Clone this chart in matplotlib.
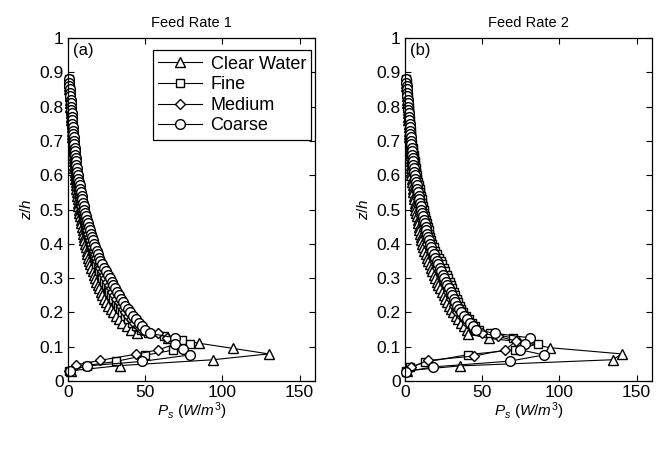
import numpy as np
import matplotlib.pyplot as plt

plt.rcParams['font.family'] = ['Liberation Sans', 'DejaVu Sans']
plt.rcParams['mathtext.fontset'] = 'custom'
plt.rcParams['mathtext.rm'] = 'Liberation Sans'
plt.rcParams['mathtext.it'] = 'Liberation Sans:italic'

# upper profile heights (z/h), shared by all series
z_upper = [0.88, 0.87, 0.86, 0.85, 0.84, 0.83, 0.82, 0.81, 0.80,
           0.79, 0.78, 0.77, 0.76, 0.75, 0.74, 0.73, 0.72, 0.71, 0.70,
           0.69, 0.68, 0.67, 0.66, 0.65, 0.64, 0.63, 0.62, 0.61, 0.60,
           0.59, 0.58, 0.57, 0.56, 0.55, 0.54, 0.53, 0.52, 0.51, 0.50,
           0.49, 0.48, 0.47, 0.46, 0.45, 0.44, 0.43, 0.42, 0.41, 0.40,
           0.39, 0.38, 0.37, 0.36, 0.35,
           0.34, 0.33, 0.32, 0.31, 0.30,
           0.29, 0.28, 0.27, 0.26, 0.25,
           0.24, 0.23, 0.22, 0.21, 0.20,
           0.19, 0.18, 0.17, 0.16, 0.15]

labels = ['Clear Water', 'Fine', 'Medium', 'Coarse']
markers = ['^', 's', 'D', 'o']

# ---- Feed Rate 1 ----
cw1_up = [0.5, 0.6, 0.8, 0.9, 1.1, 1.2, 1.3, 1.5, 1.6,
          1.7, 1.9, 2.0, 2.2, 2.3, 2.4, 2.6, 2.7, 2.9, 3.0,
          3.2, 3.3, 3.5, 3.6, 3.8, 3.9, 4.1, 4.2, 4.4, 4.5,
          4.7, 4.9, 5.1, 5.4, 5.7, 6.0, 6.3, 6.5, 6.8, 7.0,
          7.4, 7.8, 8.2, 8.6, 9.0, 9.4, 9.8, 10.2, 10.6, 11.0,
          11.5, 12.0, 12.5, 13.0, 13.5,
          14.3, 15.1, 15.9, 16.7, 17.5,
          18.4, 19.3, 20.2, 21.1, 22.0,
          23.4, 24.8, 26.2, 27.6, 29.0,
          31.0, 33.0, 35.0, 38.0, 41.0]
cw1_bed_z = [0.14, 0.125, 0.11, 0.095, 0.079, 0.062, 0.045, 0.03]
cw1_bed_p = [44.5, 65, 85, 107, 130, 94, 34, 2]

fine1_up = [0.5, 0.7, 0.8, 1.0, 1.15, 1.3, 1.5, 1.65, 1.8,
            1.95, 2.1, 2.25, 2.4, 2.55, 2.7, 2.85, 3.0, 3.15, 3.3,
            3.5, 3.7, 3.9, 4.0, 4.2, 4.4, 4.6, 4.8, 5.0, 5.2,
            5.5, 5.9, 6.2, 6.5, 6.9, 7.2, 7.5, 7.8, 8.2, 8.5,
            9.1, 9.6, 10.2, 10.7, 11.3, 11.8, 12.4, 12.9, 13.5, 14.0,
            14.7, 15.4, 16.1, 16.8, 17.5,
            18.4, 19.3, 20.2, 21.1, 22.0,
            23.2, 24.4, 25.6, 26.8, 28.0,
            29.4, 30.8, 32.2, 33.6, 35.0,
            37.0, 39.0, 41.5, 44.0, 47.0]
fine1_bed_z = [0.14, 0.13, 0.12, 0.109, 0.09, 0.075, 0.057, 0.045, 0.029]
fine1_bed_p = [52, 62, 74, 79, 68, 50, 31, 12, 0.5]

med1_up = [0.5, 0.7, 0.85, 1.0, 1.2, 1.4, 1.55, 1.7, 1.9,
           2.05, 2.2, 2.4, 2.55, 2.7, 2.85, 3.0, 3.2, 3.35, 3.5,
           3.7, 3.9, 4.1, 4.3, 4.5, 4.8, 5.0, 5.2, 5.4, 5.6,
           5.9, 6.3, 6.6, 7.0, 7.3, 7.6, 8.0, 8.3, 8.7, 9.0,
           9.6, 10.2, 10.8, 11.4, 12.0, 12.6, 13.2, 13.8, 14.4, 15.0,
           15.8, 16.6, 17.4, 18.2, 19.0,
           20.0, 21.0, 22.0, 23.0, 24.0,
           25.2, 26.4, 27.6, 28.8, 30.0,
           31.4, 32.8, 34.2, 35.6, 37.0,
           39.0, 41.0, 43.0, 45.5, 48.0]
med1_bed_z = [0.139, 0.125, 0.107, 0.091, 0.078, 0.06, 0.047, 0.03]
med1_bed_p = [58.5, 64, 69, 58.5, 44, 20.5, 5.4, 0.5]

coarse1_up = [0.6, 0.8, 0.95, 1.1, 1.3, 1.5, 1.65, 1.8, 2.0,
              2.2, 2.4, 2.5, 2.7, 2.9, 3.1, 3.3, 3.4, 3.6, 3.8,
              4.0, 4.3, 4.5, 4.8, 5.0, 5.2, 5.5, 5.7, 6.0, 6.2,
              6.6, 7.1, 7.5, 7.9, 8.3, 8.8, 9.2, 9.6, 10.1, 10.5,
              11.2, 11.8, 12.5, 13.1, 13.8, 14.4, 15.1, 15.7, 16.4, 17.0,
              17.8, 18.6, 19.4, 20.2, 21.0,
              22.2, 23.4, 24.6, 25.8, 27.0,
              28.2, 29.4, 30.6, 31.8, 33.0,
              34.4, 35.8, 37.2, 38.6, 40.0,
              42.0, 44.0, 46.0, 48.0, 50.0]
coarse1_bed_z = [0.139, 0.126, 0.107, 0.093, 0.076, 0.057, 0.044, 0.03]
coarse1_bed_p = [53, 69, 69, 74.7, 79, 47.7, 12.5, 1]

# ---- Feed Rate 2 ----
cw2_up = [0.6, 0.75, 0.9, 1.0, 1.15, 1.3, 1.45, 1.6, 1.7,
          1.85, 2.0, 2.1, 2.2, 2.35, 2.5, 2.6, 2.75, 2.9, 3.0,
          3.1, 3.25, 3.35, 3.5, 3.6, 3.7, 3.8, 3.95, 4.1, 4.2,
          4.5, 4.7, 5.0, 5.2, 5.5, 5.8, 6.0, 6.3, 6.5, 6.8,
          7.2, 7.6, 8.1, 8.5, 8.9, 9.3, 9.7, 10.2, 10.6, 11.0,
          11.8, 12.6, 13.4, 14.2, 15.0,
          15.9, 16.8, 17.7, 18.6, 19.5,
          20.6, 21.7, 22.8, 23.9, 25.0,
          26.2, 27.4, 28.6, 29.8, 31.0,
          32.8, 34.6, 36.4, 38.2, 40.0]
cw2_bed_z = [0.137, 0.124, 0.115, 0.097, 0.079, 0.062, 0.044, 0.03]
cw2_bed_p = [41, 54.5, 74, 94, 140.5, 134.5, 35.5, 1]

fine2_up = [0.8, 1.0, 1.2, 1.35, 1.55, 1.75, 1.9, 2.1, 2.3,
            2.5, 2.7, 2.9, 3.1, 3.25, 3.45, 3.65, 3.8, 4.0, 4.2,
            4.5, 4.9, 5.2, 5.6, 5.9, 6.2, 6.6, 6.9, 7.3, 7.6,
            8.0, 8.5, 8.9, 9.4, 9.8, 10.2, 10.7, 11.1, 11.6, 12.0,
            12.5, 13.1, 13.6, 14.2, 14.7, 15.3, 15.8, 16.4, 16.9, 17.5,
            18.6, 19.7, 20.8, 21.9, 23.0,
            24.0, 25.0, 26.0, 27.0, 28.0,
            28.9, 29.8, 30.7, 31.6, 32.5,
            33.5, 34.5, 35.5, 36.5, 37.5,
            39.5, 41.5, 43.5, 45.5, 48.0]
fine2_bed_z = [0.14, 0.125, 0.108, 0.091, 0.077, 0.055, 0.04, 0.028]
fine2_bed_p = [55, 70, 86, 71.5, 41, 13, 3, 0.5]

med2_up = [0.7, 0.85, 1.0, 1.2, 1.35, 1.5, 1.7, 1.85, 2.0,
           2.15, 2.3, 2.5, 2.65, 2.8, 2.95, 3.1, 3.3, 3.45, 3.6,
           3.8, 4.0, 4.25, 4.5, 4.7, 4.9, 5.15, 5.35, 5.6, 5.8,
           6.2, 6.5, 6.9, 7.3, 7.7, 8.0, 8.4, 8.8, 9.1, 9.5,
           10.0, 10.5, 11.0, 11.5, 12.0, 12.5, 13.0, 13.5, 14.0, 14.5,
           15.4, 16.3, 17.2, 18.1, 19.0,
           20.0, 21.0, 22.0, 23.0, 24.0,
           25.0, 26.0, 27.0, 28.0, 29.0,
           30.0, 31.0, 32.0, 33.0, 34.0,
           36.0, 38.0, 40.0, 42.5, 45.0]
med2_bed_z = [0.14, 0.13, 0.117, 0.091, 0.073, 0.06, 0.04, 0.028]
med2_bed_p = [50, 60, 72, 65, 45, 15, 4, 0.5]

coarse2_up = [0.7, 0.9, 1.05, 1.2, 1.4, 1.6, 1.75, 1.9, 2.1,
              2.25, 2.45, 2.6, 2.8, 2.95, 3.1, 3.3, 3.45, 3.65, 3.8,
              4.05, 4.3, 4.5, 4.75, 5.0, 5.25, 5.5, 5.7, 5.95, 6.2,
              6.6, 7.1, 7.5, 7.9, 8.3, 8.8, 9.2, 9.6, 10.1, 10.5,
              11.1, 11.6, 12.2, 12.7, 13.3, 13.8, 14.4, 14.9, 15.5, 16.0,
              16.9, 17.8, 18.7, 19.6, 20.5,
              21.5, 22.5, 23.5, 24.5, 25.5,
              26.5, 27.5, 28.5, 29.5, 30.5,
              31.6, 32.7, 33.8, 34.9, 36.0,
              38.0, 40.0, 42.0, 44.0, 46.0]
coarse2_bed_z = [0.139, 0.126, 0.107, 0.091, 0.076, 0.058, 0.041, 0.027]
coarse2_bed_p = [58, 80.7, 78, 74.7, 90, 68, 18, 0.6]

panel1 = [(cw1_up, cw1_bed_z, cw1_bed_p), (fine1_up, fine1_bed_z, fine1_bed_p),
          (med1_up, med1_bed_z, med1_bed_p), (coarse1_up, coarse1_bed_z, coarse1_bed_p)]
panel2 = [(cw2_up, cw2_bed_z, cw2_bed_p), (fine2_up, fine2_bed_z, fine2_bed_p),
          (med2_up, med2_bed_z, med2_bed_p), (coarse2_up, coarse2_bed_z, coarse2_bed_p)]

fig = plt.figure(figsize=(6.63, 4.62), dpi=100)
ax1 = fig.add_axes([68 / 663, 81 / 462, 247 / 663, 343 / 462])
ax2 = fig.add_axes([405 / 663, 81 / 462, 247 / 663, 343 / 462])

msize = {'^': 7.5, 's': 6, 'D': 5.5, 'o': 7}

for ax, data, title, tag in [(ax1, panel1, 'Feed Rate 1', '(a)'),
                              (ax2, panel2, 'Feed Rate 2', '(b)')]:
    for (up, bz, bp), lab, m in zip(data, labels, markers):
        z = z_upper + bz
        p = up + bp
        ax.plot(p, z, color='black', lw=0.8, marker=m, ms=msize[m],
                mfc='white', mec='black', mew=1.0, label=lab, clip_on=False)
    ax.set_xlim(0, 160)
    ax.set_ylim(0, 1)
    ax.set_xticks([0, 50, 100, 150])
    ax.set_yticks(np.arange(0, 1.01, 0.1))
    ax.set_yticklabels(['0', '0.1', '0.2', '0.3', '0.4', '0.5', '0.6', '0.7', '0.8', '0.9', '1'])
    ax.tick_params(direction='in', top=True, right=True, labelsize=12.5, length=4, width=0.8, pad=3)
    for s in ax.spines.values():
        s.set_linewidth(0.9)
        s.set_zorder(5)
    ax.set_title(title, fontsize=10.5, pad=8)
    ax.set_xlabel(r'$P_s\ (W/m^3)$', fontsize=11, labelpad=0)
    ax.set_ylabel(r'$z/h$', fontsize=11, labelpad=4)
    ax.text(0.02, 0.985, tag, transform=ax.transAxes, ha='left', va='top', fontsize=12)

leg = ax1.legend(loc='upper right', bbox_to_anchor=(1.0, 0.975), fontsize=13, frameon=True,
                 fancybox=False, edgecolor='black', framealpha=1, borderpad=0.3,
                 labelspacing=0.2, handlelength=2.4, handletextpad=0.5, borderaxespad=0.2)
leg.get_frame().set_linewidth(0.9)

fig.savefig('out.png', dpi=100)
